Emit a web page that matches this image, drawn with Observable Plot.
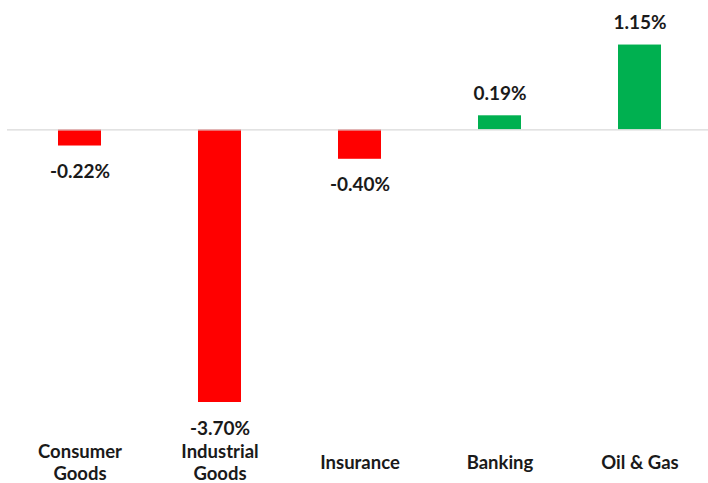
<!DOCTYPE html>
<html>
<head>
<meta charset="utf-8">
<script src="https://cdn.jsdelivr.net/npm/d3@7"></script>
<script src="https://cdn.jsdelivr.net/npm/@observablehq/plot@0.6"></script>
<style>
  html, body { margin: 0; padding: 0; background: #fff; }
  #chart svg { display: block; }
</style>
</head>
<body>
<div id="chart"></div>
<script>
const categories = ["Consumer\nGoods", "Industrial\nGoods", "Insurance", "Banking", "Oil & Gas"];
const values = [-0.22, -3.70, -0.40, 0.19, 1.15];

const data = categories.map((c, i) => ({category: c, value: values[i]}));
const fmt = v => v.toFixed(2) + "%";
const font = "Lato, 'Open Sans', sans-serif";

const chart = Plot.plot({
  width: 708,
  height: 483,
  marginTop: 0,
  marginBottom: 0,
  marginLeft: 7,
  marginRight: 0,
  style: {fontFamily: font, background: "#fff"},
  x: {domain: categories, range: [56, 663], paddingInner: 0.695, paddingOuter: 0, axis: null},
  y: {domain: [-3.7, 0], range: [402, 129.3], axis: null},
  marks: [
    Plot.barY(data, {x: "category", y: "value", fill: d => d.value < 0 ? "#FF0000" : "#00B050"}),
    Plot.ruleY([0], {stroke: "#d9d9d9", strokeWidth: 1.2}),
    Plot.text(data.filter(d => d.value < 0), {x: "category", y: "value", text: d => fmt(d.value), dy: 26, fontSize: 19, fontWeight: "bold", fill: "#1a1a1a"}),
    Plot.text(data.filter(d => d.value >= 0), {x: "category", y: "value", text: d => fmt(d.value), dy: -22, fontSize: 19, fontWeight: "bold", fill: "#1a1a1a"}),
    Plot.text(data, {x: "category", text: "category", frameAnchor: "top", dy: 461, lineHeight: 1.2, lineAnchor: "middle", fontSize: 18.5, fontWeight: "bold", fill: "#1a1a1a"})
  ]
});
document.getElementById("chart").append(chart);
</script>
</body>
</html>
